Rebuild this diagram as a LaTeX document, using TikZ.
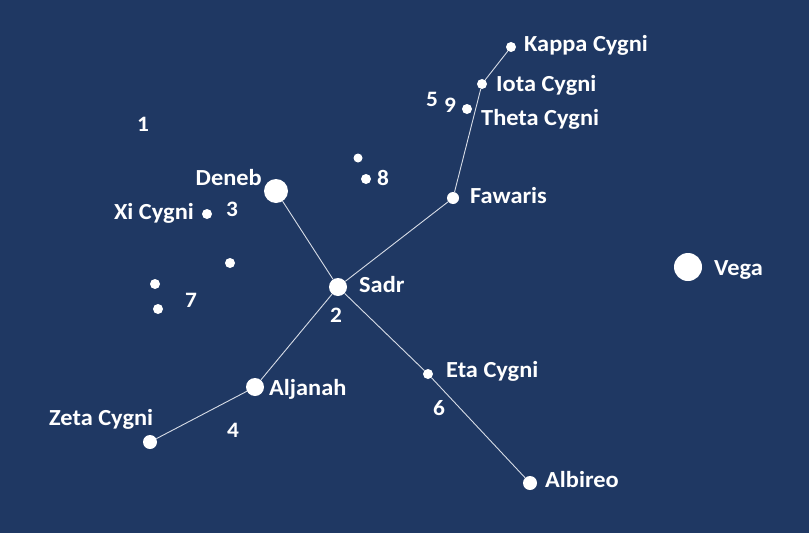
\documentclass[tikz,border=0pt]{standalone}
\usepackage{fontspec}
\setmainfont{Carlito}[FakeStretch=1.06]
\usepackage{tikz}
\usetikzlibrary{positioning}
\definecolor{skycolor}{RGB}{31,56,99}
\definecolor{linkcolor}{RGB}{215,220,230}
\tikzset{
  star/.style={circle, fill=white, inner sep=0pt, minimum size=#1},
  star/.default=10pt,
  link/.style={linkcolor, line width=0.9pt},
  starname/.style={text=white, font=\fontsize{23}{27}\selectfont\bfseries, inner sep=0pt},
  numlbl/.style={text=white, font=\fontsize{22}{26}\selectfont\bfseries, inner sep=0pt, anchor=base},
}

\begin{document}
\begin{tikzpicture}[x=1pt, y=-1pt]
    \fill[skycolor] (0,0) rectangle (809,533);
    \useasboundingbox (0,0) rectangle (809,533);
    % stars
    \node[star=10pt] (kappa) at (511,47) {};
    \node[star=10pt] (iota) at (482,84) {};
    \node[star=10pt] (theta) at (467,109) {};
    \node[star=12pt] (fawaris) at (453,198) {};
    \node[star=24pt] (deneb) at (276,191) {};
    \node[star=18pt] (sadr) at (338,287) {};
    \node[star=18pt] (aljanah) at (255,387) {};
    \node[star=14pt] (zeta) at (150,442) {};
    \node[star=10pt] (eta) at (428,374) {};
    \node[star=14pt] (albireo) at (530,483) {};
    \node[star=28pt] (vega) at (688,267) {};
    \node[star=10pt] (xi) at (207,214) {};
    \node[star=9pt] (sa) at (358,158) {};
    \node[star=10pt] (sb) at (366,179) {};
    \node[star=10pt] (sc) at (230,263) {};
    \node[star=10pt] (sd) at (155,284) {};
    \node[star=10pt] (se) at (158,309) {};
    % lines of the figure
    \draw[link] (kappa) -- (iota);
    \draw[link] (iota) -- (fawaris);
    \draw[link] (fawaris) -- (sadr);
    \draw[link] (deneb) -- (sadr);
    \draw[link] (sadr) -- (aljanah);
    \draw[link] (aljanah) -- (zeta);
    \draw[link] (sadr) -- (eta);
    \draw[link] (eta) -- (albireo);
    % names
    \node[starname, anchor=base west] (kappalbl) at (524,51) {Kappa Cygni};
    \node[starname, anchor=base west] (iotalbl) at (496,91) {Iota Cygni};
    \node[starname, anchor=base west] (thetalbl) at (481,125) {Theta Cygni};
    \node[starname, anchor=base west] (fawarislbl) at (470,203) {Fawaris};
    \node[starname, anchor=base east] (deneblbl) at (262,185) {Deneb};
    \node[starname, anchor=base east] (xilbl) at (194,219) {Xi Cygni};
    \node[starname, anchor=base west] (sadrlbl) at (359,292) {Sadr};
    \node[starname, anchor=base west] (aljanahlbl) at (269,395) {Aljanah};
    \node[starname, anchor=base west] (zetalbl) at (49,425) {Zeta Cygni};
    \node[starname, anchor=base west] (etalbl) at (446,377) {Eta Cygni};
    \node[starname, anchor=base west] (albireolbl) at (545,487) {Albireo};
    \node[starname, anchor=base west] (vegalbl) at (714,275) {Vega};
    % numbers
    \node[numlbl] (n1) at (143,131) {1};
    \node[numlbl] (n2) at (336,322) {2};
    \node[numlbl] (n3) at (232,216) {3};
    \node[numlbl] (n4) at (233,437) {4};
    \node[numlbl] (n5) at (432,106) {5};
    \node[numlbl] (n9) at (450,112) {9};
    \node[numlbl] (n6) at (439,415) {6};
    \node[numlbl] (n7) at (191,307) {7};
    \node[numlbl] (n8) at (383,185) {8};
\end{tikzpicture}
\end{document}
